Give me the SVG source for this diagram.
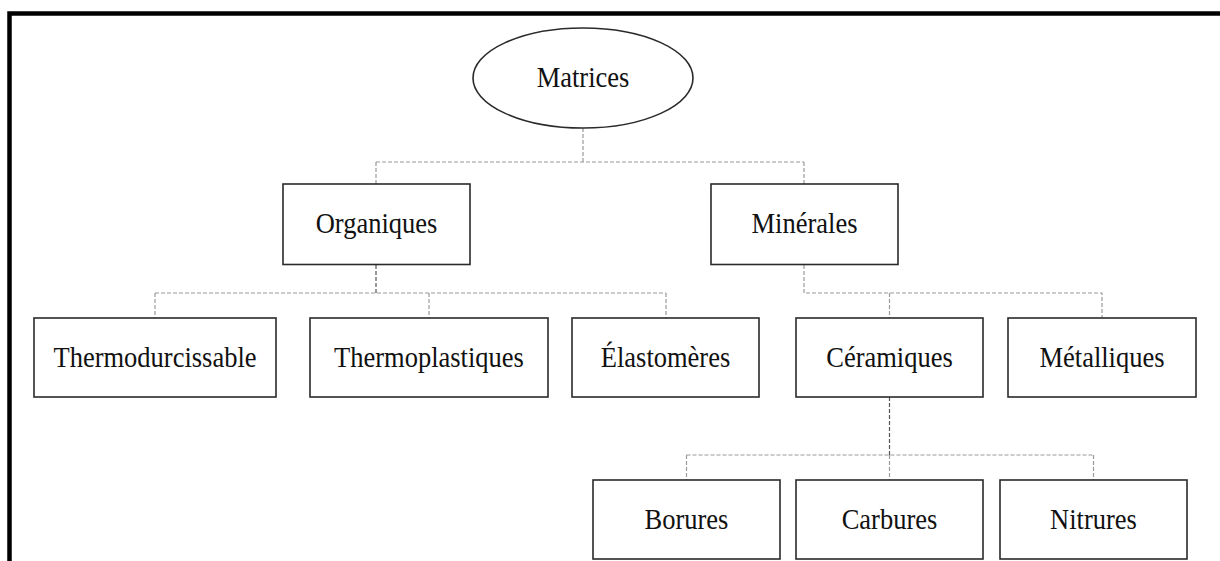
<svg xmlns="http://www.w3.org/2000/svg" width="1220" height="561" viewBox="0 0 1220 561">
<style>
.box{fill:#fff;stroke:#2a2a2a;stroke-width:1.6}
.lbl{font-family:"Liberation Serif","Times New Roman",serif;font-size:26.5px;fill:#111;text-anchor:middle}
.con{fill:none;stroke:#9a9a9a;stroke-width:1.2;stroke-dasharray:4 2}
.dk{stroke:#555}
</style>
<rect width="1220" height="561" fill="#fff"/>
<path d="M9.5,561 V13.5 H1220" fill="none" stroke="#000" stroke-width="4.5"/>
<g id="connectors">
<path class="con" d="M583,128 V162 M376,162 H804 M376,162 V184 M804,162 V184"/>
<path class="con dk" d="M376,265 V293"/>
<path class="con" d="M155,293 H666 M155,293 V318 M429,293 V318 M666,293 V318"/>
<path class="con" d="M804,265 V293 H1102 V318 M889.5,293 V318"/>
<path class="con dk" d="M889.5,397 V455"/>
<path class="con" d="M686.5,455 H1093.5 M686.5,455 V480 M889.5,455 V480 M1093.5,455 V480"/>
</g>
<g id="matrices">
<ellipse class="box" cx="583" cy="78" rx="110" ry="50"/>
<text class="lbl" transform="translate(583,87) scale(1,1.13)">Matrices</text>
</g>
<g id="organiques">
<rect class="box" x="283" y="184" width="187" height="80.5"/>
<text class="lbl" transform="translate(376.5,233) scale(1,1.13)">Organiques</text>
</g>
<g id="minerales">
<rect class="box" x="711" y="184" width="187" height="80.5"/>
<text class="lbl" transform="translate(804.5,233) scale(1,1.13)">Minérales</text>
</g>
<g id="thermodurcissable">
<rect class="box" x="34" y="318" width="242" height="79"/>
<text class="lbl" transform="translate(155,367) scale(1,1.13)">Thermodurcissable</text>
</g>
<g id="thermoplastiques">
<rect class="box" x="310" y="318" width="238" height="79"/>
<text class="lbl" transform="translate(429,367) scale(1,1.13)">Thermoplastiques</text>
</g>
<g id="elastomeres">
<rect class="box" x="572" y="318" width="187" height="79"/>
<text class="lbl" transform="translate(665.5,367) scale(1,1.13)">Élastomères</text>
</g>
<g id="ceramiques">
<rect class="box" x="796" y="318" width="187" height="79"/>
<text class="lbl" transform="translate(889.5,367) scale(1,1.13)">Céramiques</text>
</g>
<g id="metalliques">
<rect class="box" x="1008" y="318" width="188" height="79"/>
<text class="lbl" transform="translate(1102,367) scale(1,1.13)">Métalliques</text>
</g>
<g id="borures">
<rect class="box" x="593" y="480" width="187" height="79"/>
<text class="lbl" transform="translate(686.5,529) scale(1,1.13)">Borures</text>
</g>
<g id="carbures">
<rect class="box" x="796" y="480" width="187" height="79"/>
<text class="lbl" transform="translate(889.5,529) scale(1,1.13)">Carbures</text>
</g>
<g id="nitrures">
<rect class="box" x="1000" y="480" width="187" height="79"/>
<text class="lbl" transform="translate(1093.5,529) scale(1,1.13)">Nitrures</text>
</g>
</svg>
